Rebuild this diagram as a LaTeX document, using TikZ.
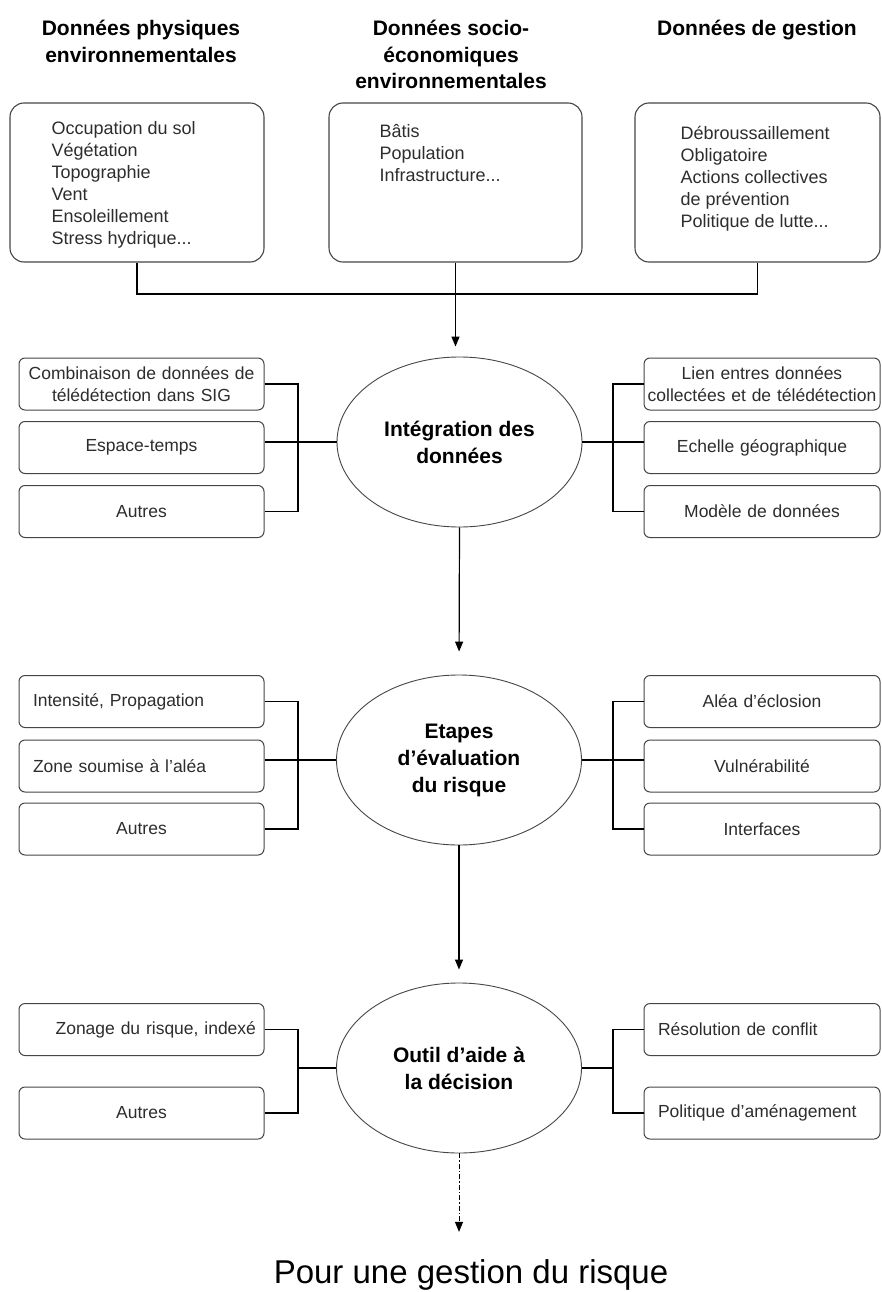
\documentclass[tikz,border=0pt]{standalone}
\usepackage{fontspec}
\setmainfont{Liberation Sans}
\usetikzlibrary{arrows.meta,positioning,shapes.geometric,calc}
\definecolor{frame}{RGB}{70,70,70}
\definecolor{txt}{RGB}{45,45,45}
\tikzset{
  heading/.style={font=\fontsize{21}{26.5}\selectfont\bfseries,align=center,inner sep=0pt,anchor=north},
  topbox/.style={draw=frame,line width=1.1pt,rounded corners=14pt,minimum height=159pt,inner sep=0pt},
  listtxt/.style={font=\fontsize{18}{22}\selectfont,text=txt,align=left,inner sep=0pt,anchor=north west},
  sidebox/.style={draw=frame,line width=1pt,rounded corners=6pt,minimum width=245pt,minimum height=52pt,
    text width=239pt,inner xsep=3pt,inner ysep=0pt,align=center,font=\fontsize{17.5}{21.5}\selectfont,text=txt},
  sideR/.style={sidebox,minimum width=236pt,text width=234pt,inner xsep=1pt},
  leftish/.style={align=left,inner xsep=14pt,text width=217pt},
  leftishR/.style={align=left,inner xsep=14pt,text width=208pt},
  stage/.style={ellipse,draw=frame,line width=0.9pt,minimum width=245pt,minimum height=170pt,inner sep=0pt,
    align=center,font=\fontsize{21}{27}\selectfont\bfseries},
  link/.style={line width=1.1pt},
  flow/.style={line width=1.2pt,-{Triangle[width=8pt,length=10pt]}},
}
\begin{document}
\begin{tikzpicture}[x=1pt,y=1pt]
\fill[white] (0,0) rectangle (882,-1292);
\useasboundingbox (0,0) rectangle (882,-1292);

% sources
\node[heading] (hphys) at (141,-20) {Données physiques\\environnementales};
\node[heading] (hsoc) at (451,-20) {Données socio-\\économiques\\environnementales};
\node[heading] (hgest) at (757,-20) {Données de gestion};

\node[topbox,minimum width=254pt] (phys) at (137,-182.5) {};
\node[topbox,minimum width=253pt] (soc) at (455.5,-182.5) {};
\node[topbox,minimum width=245pt] (gest) at (757.5,-182.5) {};
\node[listtxt] (physl) at ([shift={(42,-19)}]phys.north west) {Occupation du sol\\Végétation\\Topographie\\Vent\\Ensoleillement\\Stress hydrique...};
\node[listtxt] (socl) at ([shift={(51,-22)}]soc.north west) {Bâtis\\Population\\Infrastructure...};
\node[listtxt] (gestl) at ([shift={(46,-24)}]gest.north west) {Débroussaillement\\Obligatoire\\Actions collectives\\de prévention\\Politique de lutte...};

% stages
\node[stage] (integ) at (459.5,-442) {Intégration des\\données};
\node[stage] (evalr) at (459,-760) {Etapes\\d'évaluation\\du risque};
\node[stage] (outil) at (459,-1068) {Outil d’aide à\\la décision};
\node[font=\fontsize{33}{38}\selectfont,inner sep=0pt,anchor=base] (gestion) at (471,-1283) {Pour une gestion du risque};

% side boxes
\node[sidebox] (lint1) at (141.5,-384) {Combinaison de données de\\télédétection dans SIG};
\node[sidebox] (lint2) at (141.5,-447.5) {Espace-temps};
\node[sidebox] (lint3) at (141.5,-511.5) {Autres};
\node[sideR] (rint1) at (762,-384) {Lien entres données\\collectées et de télédétection};
\node[sideR] (rint2) at (762,-447.5) {Echelle géographique};
\node[sideR] (rint3) at (762,-511.5) {Modèle de données};

\node[sidebox,leftish] (leva1) at (141.5,-701.5) {Intensité, Propagation};
\node[sidebox,leftish] (leva2) at (141.5,-766) {Zone soumise à l'aléa};
\node[sidebox] (leva3) at (141.5,-829) {Autres};
\node[sideR] (reva1) at (762,-701.5) {Aléa d'éclosion};
\node[sideR] (reva2) at (762,-766) {Vulnérabilité};
\node[sideR] (reva3) at (762,-829) {Interfaces};

\node[sidebox,align=right,inner xsep=8pt,text width=229pt] (lout1) at (141.5,-1029.5) {Zonage du risque, indexé};
\node[sidebox] (lout2) at (141.5,-1113) {Autres};
\node[sideR,leftishR] (rout1) at (762,-1029.5) {Résolution de conflit};
\node[sideR,leftishR] (rout2) at (762,-1113) {Politique d'aménagement};

% connectors
\coordinate (join) at (455.5,-294);
\draw[link] (phys.south) |- (join) -| (gest.south);
\draw[flow,shorten >=10pt] (soc.south) -- (soc.south |- integ.north);
\draw[flow,shorten >=23pt] (integ.south) -- (evalr.north);
\draw[flow,shorten >=13pt] (evalr.south) -- (outil.north);
\draw[line width=1pt,dash pattern=on 5pt off 2pt on 1.5pt off 2pt,-{Triangle[width=8pt,length=10pt]},shorten >=27pt]
  (outil.south) -- (outil.south |- gestion.north);

\coordinate (lb1) at (298,-442);
\coordinate (rb1) at (613,-442);
\draw[link] (lint1.east) -| (lb1) |- (lint3.east);
\draw[link] (rint1.west) -| (rb1) |- (rint3.west);
\draw[link] (integ.west) -- (integ.west -| lint2.east);
\draw[link] (integ.east) -- (integ.east -| rint2.west);

\coordinate (lb2) at (298,-760);
\coordinate (rb2) at (613,-760);
\draw[link] (leva1.east) -| (lb2) |- (leva3.east);
\draw[link] (reva1.west) -| (rb2) |- (reva3.west);
\draw[link] (evalr.west) -- (evalr.west -| leva2.east);
\draw[link] (evalr.east) -- (evalr.east -| reva2.west);

\coordinate (lb3) at (298,-1068);
\coordinate (rb3) at (613,-1068);
\draw[link] (lout1.east) -| (lb3) |- (lout2.east);
\draw[link] (rout1.west) -| (rb3) |- (rout2.west);
\draw[link] (outil.west) -- (lb3);
\draw[link] (outil.east) -- (rb3);
\end{tikzpicture}
\end{document}
